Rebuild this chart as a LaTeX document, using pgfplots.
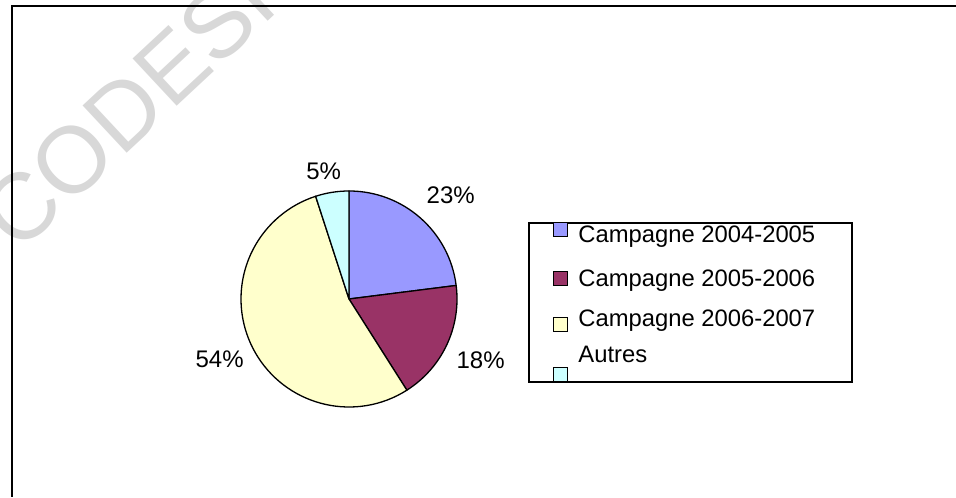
\documentclass[border=0pt]{standalone}
\usepackage{fontspec}
\setmainfont{Liberation Sans}
\usepackage{pgfplots}
\usepackage{pgfplotstable}
\pgfplotsset{compat=1.18}
\usetikzlibrary{calc}

\definecolor{c1}{RGB}{153,153,255}
\definecolor{c2}{RGB}{153,51,102}
\definecolor{c3}{RGB}{255,255,204}
\definecolor{c4}{RGB}{204,255,255}
\definecolor{wm}{RGB}{216,216,216}

% part de chaque campagne (%)
\pgfplotstableread{
share
23
18
54
5
}\pietable

\begin{document}
\begin{tikzpicture}
\useasboundingbox (0,0) rectangle (478pt,248.5pt);
\clip (0,0) rectangle (478pt,248.5pt);

% angles cumules, sens horaire depuis midi
\pgfplotstablegetelem{0}{share}\of\pietable \edef\vA{\pgfplotsretval}
\pgfplotstablegetelem{1}{share}\of\pietable \edef\vB{\pgfplotsretval}
\pgfplotstablegetelem{2}{share}\of\pietable \edef\vC{\pgfplotsretval}
\pgfplotstablegetelem{3}{share}\of\pietable \edef\vD{\pgfplotsretval}
\pgfmathsetmacro\angA{90-3.6*\vA}
\pgfmathsetmacro\angB{\angA-3.6*\vB}
\pgfmathsetmacro\angC{\angB-3.6*\vC}
\pgfmathsetmacro\angD{\angC-3.6*\vD}
\pgfmathsetmacro\ancA{mod((90+\angA)/2+540,360)}
\pgfmathsetmacro\ancB{mod((\angA+\angB)/2+540,360)}
\pgfmathsetmacro\ancC{mod((\angB+\angC)/2+540,360)}
\pgfmathsetmacro\ancD{mod((\angC+\angD)/2+540,360)}

\begin{axis}[
  at={(0,0)}, anchor=origin,
  x=0.5pt, y=0.5pt,
  xmin=0, xmax=956, ymin=0, ymax=497,
  hide axis, clip=false,
]
  % filigrane
  \node[wm, font=\fontsize{47}{47}\selectfont, rotate=43, anchor=west, inner sep=0]
    at (axis cs:-4,266) {CODESRIA};

  % cadre
  \draw[line width=1pt] (axis cs:11.5,0) -- (axis cs:11.5,490.5) -- (axis cs:960,490.5);

  % secteurs
  \begin{scope}[draw=black, line width=0.65pt, line join=round]
    \filldraw[fill=c1] (axis cs:349,198) -- ++(90:54pt) arc[start angle=90, end angle=\angA, radius=54pt] -- cycle;
    \filldraw[fill=c2] (axis cs:349,198) -- ++(\angA:54pt) arc[start angle=\angA, end angle=\angB, radius=54pt] -- cycle;
    \filldraw[fill=c3] (axis cs:349,198) -- ++(\angB:54pt) arc[start angle=\angB, end angle=\angC, radius=54pt] -- cycle;
    \filldraw[fill=c4] (axis cs:349,198) -- ++(\angC:54pt) arc[start angle=\angC, end angle=\angD, radius=54pt] -- cycle;
  \end{scope}

  % etiquettes
  \begin{scope}[font=\fontsize{12}{14}\selectfont, inner sep=0]
    \node[anchor=\ancA, xshift=6.5pt, yshift=1.5pt] at ($(axis cs:349,198)+({(90+\angA)/2}:61pt)$) {\vA\%};
    \node[anchor=\ancB, xshift=1.5pt] at ($(axis cs:349,198)+({(\angA+\angB)/2}:61pt)$) {\vB\%};
    \node[anchor=\ancC] at ($(axis cs:349,198)+({(\angB+\angC)/2}:61pt)$) {\vC\%};
    \node[anchor=\ancD, xshift=-2.5pt, yshift=-1pt] at ($(axis cs:349,198)+({(\angC+\angD)/2}:61pt)$) {\vD\%};
  \end{scope}

  % legende
  \draw[line width=0.7pt] (axis cs:529,115) rectangle (axis cs:852,274);
  \begin{scope}[line width=0.5pt]
    \filldraw[fill=c1] (axis cs:553,260) rectangle (axis cs:567,274);
    \filldraw[fill=c2] (axis cs:553,211) rectangle (axis cs:567,225);
    \filldraw[fill=c3] (axis cs:553,165) rectangle (axis cs:567,179);
    \filldraw[fill=c4] (axis cs:553,115) rectangle (axis cs:567,129);
  \end{scope}
  \begin{scope}[font=\fontsize{11.9}{14}\selectfont, inner sep=0, anchor=base west]
    \node at (axis cs:578,254) {Campagne 2004-2005};
    \node at (axis cs:578,210) {Campagne 2005-2006};
    \node at (axis cs:578,170) {Campagne 2006-2007};
    \node at (axis cs:578,134) {Autres};
  \end{scope}
\end{axis}
\end{tikzpicture}
\end{document}
